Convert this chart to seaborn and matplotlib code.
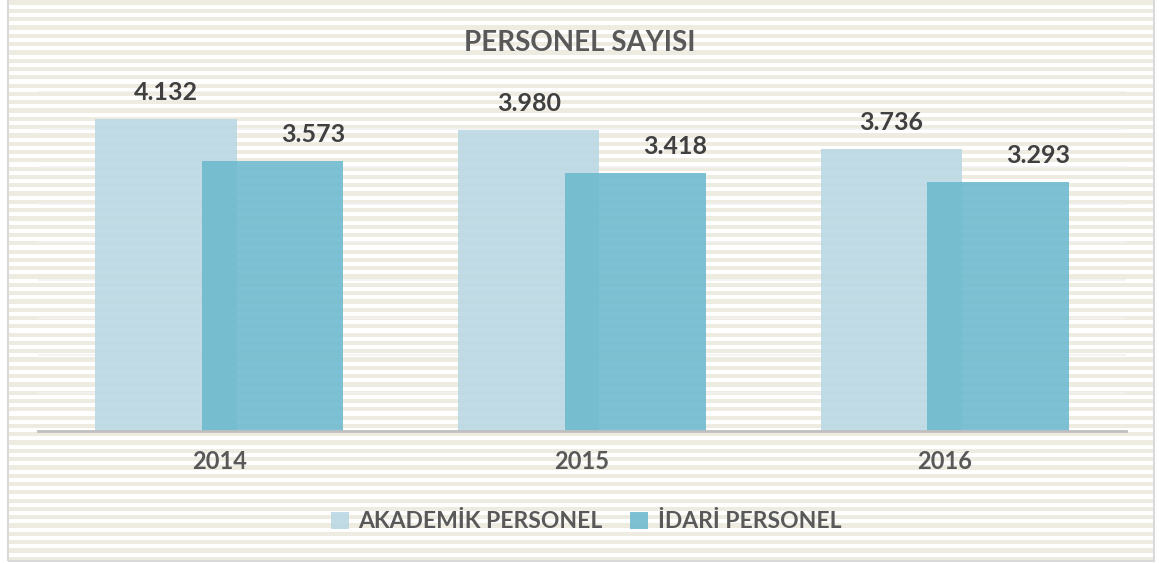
import numpy as np
import pandas as pd
import matplotlib
matplotlib.use("Agg")
import matplotlib.pyplot as plt
import seaborn as sns
from matplotlib.patches import Rectangle

years = ["2014", "2015", "2016"]
series_names = ["AKADEMİK PERSONEL", "İDARİ PERSONEL"]
akademik = [4132, 3980, 3736]
idari = [3573, 3418, 3293]
value_labels = {
    "AKADEMİK PERSONEL": ["4.132", "3.980", "3.736"],
    "İDARİ PERSONEL": ["3.573", "3.418", "3.293"],
}
title = "PERSONEL SAYISI"

df = pd.DataFrame({
    "year": years * 2,
    "series": [series_names[0]] * 3 + [series_names[1]] * 3,
    "value": akademik + idari,
})

sns.set_theme(style="white")
plt.rcParams["font.family"] = ["Lato", "DejaVu Sans"]

W, H = 1159, 563
fig = plt.figure(figsize=(W / 100, H / 100), dpi=100)

# striped background inside a light frame
bg = np.ones((H, W, 3))
beige = np.array([0xEE, 0xEB, 0xE1]) / 255.0
rows = np.arange(H)
stripe = (rows % 8.3) < 4.2
frame_l, frame_r, frame_b = 8, 1154, 561
for r in rows[stripe]:
    if r < frame_b:
        bg[r, frame_l:frame_r] = beige
fig.figimage(bg, xo=0, yo=0, origin="upper", zorder=-5)
fig.patches.append(Rectangle((frame_l / W, 1 - frame_b / H), (frame_r - frame_l) / W, frame_b / H + 0.01,
                             transform=fig.transFigure, fill=False, edgecolor="#D9D9D9", linewidth=1.5, zorder=-4))

ax = fig.add_axes([38 / W, 1 - 431 / H, (1126 - 38) / W, (431 - 91) / H])
ax.set_facecolor("none")
ax.set_zorder(2)

palette = {series_names[0]: "#B9D8E3", series_names[1]: "#6CB9CE"}
sns.barplot(data=df, x="year", y="value", hue="series", order=years, hue_order=series_names,
            palette=palette, width=0.78, dodge=True, alpha=0.88, ax=ax, legend=False,
            saturation=1, linewidth=0, zorder=3)

# overlap the two bars of each group
n = len(years)
shift = 0.048
for i, p in enumerate(ax.patches[: 2 * n]):
    group = i // n
    p.set_x(p.get_x() + (shift if group == 0 else -shift))

ax.set_ylim(0, 4500)
ax.set_xlim(-0.5, len(years) - 0.5)
ax.set_yticks(np.arange(0, 4501, 500))
ax.yaxis.grid(True, color="#F2F2F2", linewidth=1.2, zorder=1)
ax.set_axisbelow(True)
ax.tick_params(axis="y", left=False, labelleft=False)
ax.tick_params(axis="x", bottom=False, pad=8, labelsize=17, labelcolor="#595959")
for lab in ax.get_xticklabels():
    lab.set_fontweight("bold")
ax.set_xlabel("")
ax.set_ylabel("")
for s in ["top", "right", "left"]:
    ax.spines[s].set_visible(False)
ax.spines["bottom"].set_color("#BFBFBF")
ax.spines["bottom"].set_linewidth(2)
ax.spines["bottom"].set_zorder(5)

# value labels
for gi, name in enumerate(series_names):
    for j in range(n):
        p = ax.patches[gi * n + j]
        cx = p.get_x() + p.get_width() / 2
        dx = 0 if gi == 0 else 29
        ax.annotate(value_labels[name][j], (cx, p.get_height()), xytext=(dx, 19), textcoords="offset points",
                    ha="center", va="center", fontsize=18, fontweight="bold", color="#404040")

fig.text(580 / W, 1 - 43 / H, title, ha="center", va="center", fontsize=20, fontweight="bold", color="#595959")

handles = [Rectangle((0, 0), 1, 1, facecolor=palette[s], alpha=0.88, edgecolor="none") for s in series_names]
fig.legend(handles, series_names, loc="center", bbox_to_anchor=(586 / W, 1 - 522 / H), ncol=2, frameon=False,
           prop={"weight": "bold", "size": 16.5}, labelcolor="#595959", handlelength=0.8, handleheight=0.8,
           handletextpad=0.4, columnspacing=1.2)

fig.savefig("out.png", dpi=100)
